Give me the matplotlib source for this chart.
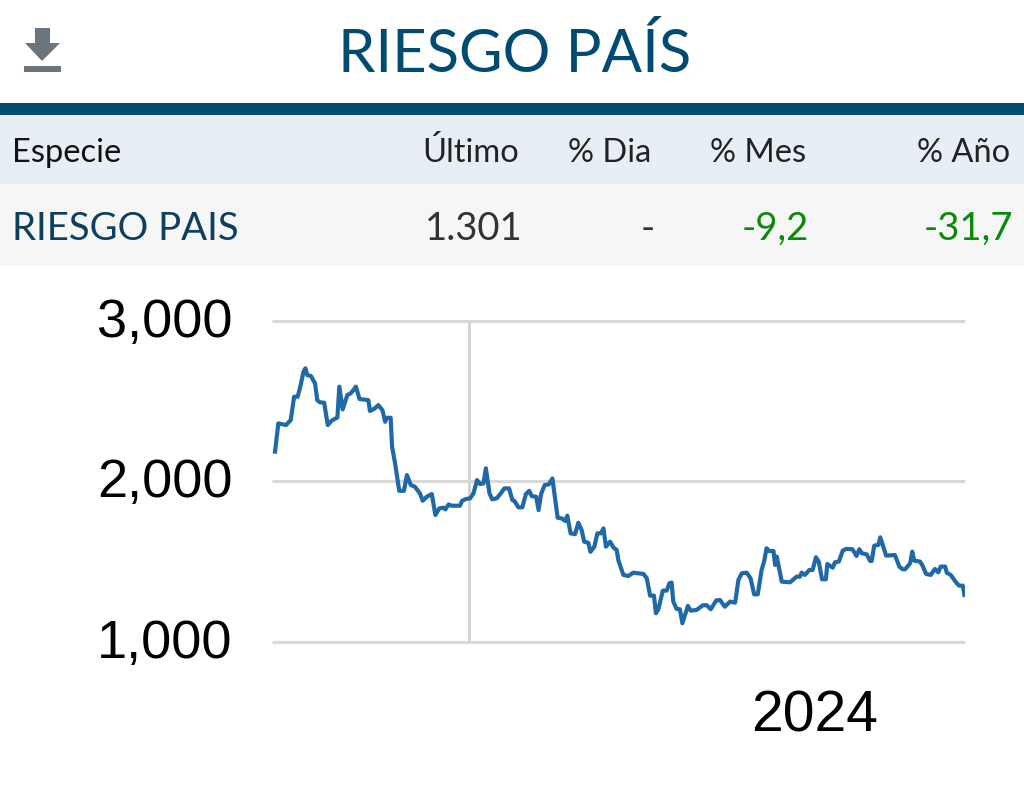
import matplotlib
matplotlib.use('Agg')
import matplotlib.pyplot as plt
from matplotlib.patches import Rectangle, Polygon
from matplotlib.transforms import Affine2D

title = 'RIESGO PAÍS'
header_labels = ['Último', '% Dia', '% Mes', '% Año']
row_name = 'RIESGO PAIS'
row_values = ['1.301', '-', '-9,2', '-31,7']

# session number along the x axis, and the index value at that session
sessions = [0.0, 1.2, 4.0, 5.7, 6.9, 8.2, 9.3, 10.3, 11.0, 11.7, 13.0, 14.5, 15.3, 16.3, 17.8, 19.1, 20.5, 22.6, 23.3, 24.5,
            26.2, 27.4, 28.4, 29.3, 30.6, 33.8, 34.4, 36.2, 37.4, 38.9, 39.9, 40.5, 41.9, 42.4, 43.5, 45.0, 46.7, 47.8, 49.2, 50.7,
            52.5, 53.5, 55.0, 56.8, 58.1, 59.5, 61.0, 61.7, 62.9, 64.0, 67.0, 67.8, 69.2, 70.7, 71.9, 73.2, 74.3, 75.5, 76.4, 77.7,
            78.7, 80.3, 81.8, 83.1, 84.8, 86.0, 86.7, 88.2, 89.6, 90.9, 92.1, 93.0, 94.6, 95.5, 96.4, 97.7, 99.2, 100.5, 101.4, 102.4,
            103.9, 105.1, 105.9, 107.1, 108.7, 109.9, 111.1, 112.0, 113.5, 114.3, 115.7, 116.8, 118.1, 119.0, 119.9, 121.4, 122.6, 123.8, 124.4,
            126.2, 128.0, 129.8, 133.5, 134.7, 135.9, 137.3, 138.0, 138.9, 140.5, 141.9, 142.9, 143.7, 144.3, 145.5, 146.7, 147.6, 149.6, 150.6, 152.8,
            155.0, 156.4, 157.9, 159.8, 161.2, 163.0, 164.9, 166.7, 167.9, 169.1, 170.9, 172.3, 173.6, 174.9, 176.3, 177.2, 178.1, 179.0, 180.6, 181.2,
            181.8, 183.6, 186.6, 189.0, 190.2, 190.8, 192.0, 193.6, 194.8, 196.0, 197.0, 198.2, 199.6, 200.1, 202.1, 202.9, 204.3, 205.7, 206.9, 209.2,
            210.7, 211.7, 212.6, 214.4, 215.6, 216.2, 217.1, 218.6, 219.3, 220.4, 221.4, 224.6, 226.2, 227.4, 228.3, 230.1, 230.9, 231.6, 233.7, 234.5,
            235.9, 237.6, 239.1, 240.3, 241.2, 242.8, 243.4, 244.8, 247.0, 247.9, 249.2, 249.8]
riesgo = [2186, 2362, 2352, 2383, 2528, 2528, 2601, 2684, 2705, 2663, 2657, 2611, 2507, 2493, 2491, 2352, 2379, 2399, 2591, 2449,
          2539, 2549, 2570, 2591, 2514, 2507, 2439, 2456, 2476, 2445, 2372, 2397, 2397, 2217, 2113, 1942, 1942, 2040, 1978, 1967,
          1926, 1880, 1905, 1922, 1791, 1832, 1837, 1826, 1857, 1849, 1849, 1880, 1891, 1895, 1926, 2009, 1984, 1988, 2082, 1926,
          1889, 1895, 1926, 1957, 1957, 1884, 1880, 1839, 1839, 1922, 1942, 1909, 1905, 1822, 1922, 1978, 1982, 2019, 1905, 1774,
          1770, 1754, 1787, 1677, 1672, 1743, 1697, 1625, 1618, 1562, 1594, 1677, 1677, 1708, 1594, 1625, 1589, 1573, 1510,
          1418, 1411, 1432, 1424, 1397, 1289, 1289, 1179, 1204, 1320, 1320, 1366, 1370, 1252, 1206, 1204, 1117, 1225, 1195, 1200,
          1229, 1229, 1204, 1258, 1262, 1220, 1252, 1245, 1387, 1428, 1432, 1397, 1297, 1297, 1449, 1501, 1584, 1567, 1567, 1480,
          1532, 1376, 1372, 1407, 1407, 1432, 1418, 1449, 1449, 1528, 1501, 1391, 1391, 1486, 1463, 1497, 1501, 1569, 1580, 1578,
          1536, 1578, 1553, 1546, 1505, 1505, 1600, 1605, 1652, 1594, 1538, 1542, 1470, 1453, 1453, 1490, 1563, 1507, 1501, 1480,
          1424, 1418, 1455, 1434, 1470, 1470, 1432, 1418, 1366, 1351, 1351, 1293]

y_ticks = [1000, 2000, 3000]
year_label = '2024'
year_gridline = 70.3
year_label_pos = 195.6

NAVY = '#004b72'
GREY_LINE = '#d9d9d9'

fig = plt.figure(figsize=(10.24, 7.92), dpi=100, facecolor='white')

# page layer, in pixels from the top left
page = fig.add_axes([0, 0, 1, 1], zorder=0)
page.set_xlim(0, 1024)
page.set_ylim(792, 0)
page.axis('off')

page.add_patch(Rectangle((0, 103), 1024, 12, color=NAVY, lw=0))
page.add_patch(Rectangle((0, 115), 1024, 69, color='#e8eef6', lw=0))
page.add_patch(Rectangle((0, 184), 1024, 82, color='#f6f6f6', lw=0))

# download icon
page.add_patch(Polygon([(35, 28), (50, 28), (50, 43), (60, 43), (42, 61), (25, 43), (35, 43)], color='#6c757d', lw=0))
page.add_patch(Rectangle((24, 66), 37, 6, color='#6c757d', lw=0))

page.text(515, 72, title, family='Lato', fontsize=43, color=NAVY, ha='center', va='baseline')

page.text(12, 162, 'Especie', family='Lato', fontsize=23.5, color='#111111', va='baseline')
for label, right in zip(header_labels, [519, 651, 806, 1010]):
    page.text(right, 162, label, family='Lato', fontsize=23.5, color='#222222', ha='right', va='baseline')

page.text(12, 240, row_name, family='Lato', fontsize=27.6, color='#0e3f5c', va='baseline')
value_colors = ['#333333', '#333333', '#0a8a0a', '#0a8a0a']
for value, right, col in zip(row_values, [523, 655, 809, 1013], value_colors):
    page.text(right, 240, value, family='Lato', fontsize=27.6, color=col, ha='right', va='baseline')

# chart
ax = fig.add_axes([272 / 1024, 1 - 642 / 792, 693 / 1024, 321 / 792], zorder=1)
ax.patch.set_alpha(0)
ax.plot(sessions, riesgo, color='#1f69a8', lw=3.0, solid_joinstyle='round', zorder=3)
ax.set_xlim(-1.1, 250)
ax.set_ylim(1000, 3000)

ax.set_yticks(y_ticks, labels=[f'{v:,}' for v in y_ticks])
ax.set_xticks([year_gridline], labels=[''])
ax.set_xticks([year_label_pos], labels=[year_label], minor=True)
ax.tick_params(axis='both', which='both', length=0, labelcolor='black')
ax.tick_params(axis='y', pad=28.5, labelsize=39)
ax.tick_params(axis='x', which='minor', pad=34, labelsize=41)
for lab in ax.get_yticklabels() + ax.get_xticklabels(minor=True):
    lab.set_family('Liberation Sans')
for lab in ax.get_yticklabels():
    lab.set_verticalalignment('center_baseline')
    lab.set_transform(lab.get_transform() + Affine2D().translate(0, 3.5))

ax.grid(True, axis='y', color=GREY_LINE, lw=2.3, solid_capstyle='butt')
ax.grid(True, axis='x', color='#d2d2d2', lw=2, solid_capstyle='butt')
for gl in ax.get_ygridlines():
    gl.set_clip_on(False)
for s in ax.spines.values():
    s.set_visible(False)
ax.set_axisbelow(True)

fig.savefig('out.png', dpi=100)
